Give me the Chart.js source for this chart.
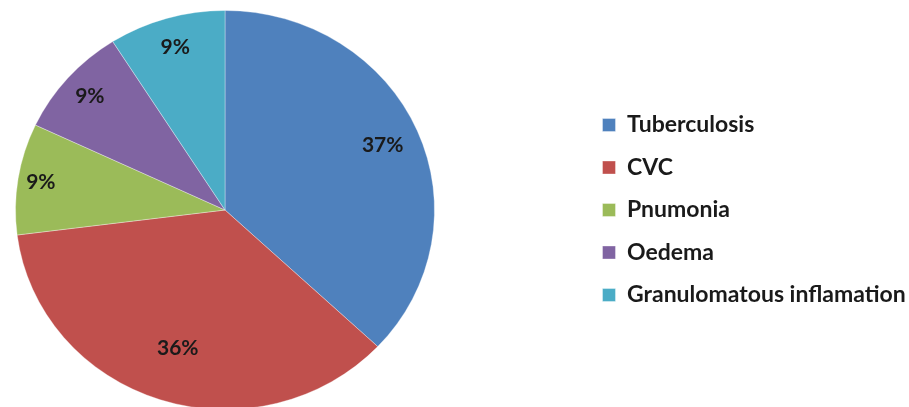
<!DOCTYPE html>
<html>
<head>
<meta charset="utf-8">
<script src="https://cdn.jsdelivr.net/npm/chart.js@4.4.1/dist/chart.umd.min.js"></script>
<style>
  html, body { margin: 0; padding: 0; background: #fff; overflow: hidden; width: 909px; height: 407px; }
  #wrap { width: 909px; height: 407px; overflow: hidden; }
  canvas { display: block; }
</style>
</head>
<body>
<div id="wrap"><canvas id="pieChart" width="909" height="420"></canvas></div>
<script>
  // chart data
  const categories = ["Tuberculosis", "CVC", "Pnumonia", "Oedema", "Granulomatous inflamation"];
  const percentages = [37, 36, 9, 9, 9];
  const sliceColors = ["#4F81BD", "#C0504D", "#9BBB59", "#8064A2", "#4BACC6"];
  // how far out (fraction of radius) each percent label sits
  const labelRadius = [0.82, 0.73, 0.89, 0.86, 0.85];

  // the original pie is a bit flattened (an ellipse, not a circle)
  const squashY = 200 / 210;

  // widen the legend box so the pie keeps its place on the left
  const legendSpace = {
    id: "legendSpace",
    beforeLayout(chart, args, opts) {
      const legend = chart.legend;
      if (!legend || legend._patched) return;
      const fit = legend.fit;
      legend.fit = function () {
        fit.call(this);
        this.width = Math.max(this.width, opts.width);
      };
      legend._patched = true;
    },
    afterLayout(chart, args, opts) {
      const legend = chart.legend;
      legend.left = opts.left;
      legend.top += opts.dy;
      legend.bottom += opts.dy;
    },
  };

  // flatten the pie and put the percent labels on it
  const sliceLabels = {
    id: "sliceLabels",
    beforeDatasetsDraw(chart) {
      const ctx = chart.ctx;
      const a = chart.chartArea;
      const cx = (a.left + a.right) / 2;
      const cy = (a.top + a.bottom) / 2;
      ctx.save();
      ctx.translate(cx, cy);
      ctx.scale(1, squashY);
      ctx.translate(-cx, -cy);
    },
    afterDatasetsDraw(chart) {
      const ctx = chart.ctx;
      ctx.restore();
      const meta = chart.getDatasetMeta(0);
      ctx.save();
      ctx.font = "bold 21px Lato";
      ctx.fillStyle = "#1a1a1a";
      ctx.textAlign = "center";
      ctx.textBaseline = "middle";
      meta.data.forEach((arc, i) => {
        const p = arc.getProps(["x", "y", "startAngle", "endAngle", "outerRadius"], true);
        const mid = (p.startAngle + p.endAngle) / 2;
        const r = p.outerRadius * labelRadius[i];
        ctx.fillText(percentages[i] + "%", p.x + Math.cos(mid) * r, p.y + Math.sin(mid) * r * squashY);
      });
      ctx.restore();
    },
  };

  const ctx = document.getElementById("pieChart").getContext("2d");
  new Chart(ctx, {
    type: "pie",
    data: {
      labels: categories,
      datasets: [
        {
          data: percentages,
          backgroundColor: sliceColors,
          borderColor: "rgba(255,255,255,0.35)",
          borderWidth: 1,
        },
      ],
    },
    options: {
      responsive: false,
      animation: false,
      devicePixelRatio: 1,
      layout: { padding: { left: 15, top: 0, right: 0, bottom: 0 } },
      plugins: {
        tooltip: { enabled: false },
        legend: {
          position: "right",
          labels: {
            boxWidth: 13,
            boxHeight: 13,
            padding: 19.5,
            color: "#1a1a1a",
            font: { family: "Lato", size: 23, weight: "bold" },
          },
        },
        legendSpace: { width: 474, left: 583, dy: 0 },
      },
    },
    plugins: [legendSpace, sliceLabels],
  });
</script>
</body>
</html>
